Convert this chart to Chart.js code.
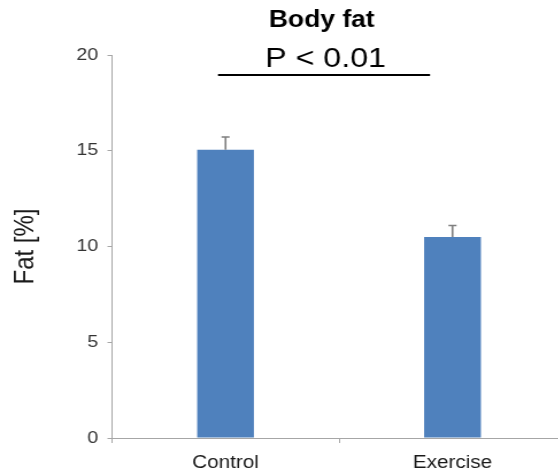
<!DOCTYPE html>
<html>
<head>
<meta charset="utf-8">
<title>Body fat</title>
<script src="https://cdn.jsdelivr.net/npm/chart.js@4/dist/chart.umd.min.js"></script>
<style>
  html, body { margin: 0; padding: 0; background: #ffffff; overflow: hidden; }
  #wrap { width: 558px; height: 475px; overflow: hidden; position: relative; }
  #chart { position: absolute; left: 0; top: 0; }
</style>
</head>
<body>
<div id="wrap">
  <!-- rendered narrow, then widened horizontally on screen -->
  <canvas id="chart" width="496" height="475" style="width:570px;height:475px;"></canvas>
</div>
<script>
// Groups and measured values
const categories = ['Control', 'Exercise'];
const fatMean = [15.05, 10.5];
const fatError = [0.67, 0.6];

// Axis range and labels
const yMin = 0;
const yMax = 20;
const yStep = 5;
const yAxisTitle = 'Fat [%]';
const chartTitle = 'Body fat';
const pValueText = 'P < 0.01';

const FONT = '"Liberation Sans", Arial, Helvetica, sans-serif';
const BAR_BLUE = '#4F81BD';
const AXIS_GREY = '#a6a6a6';

// Upward error bars with a small cap, one per bar
const errorBars = {
  id: 'errorBars',
  afterDatasetsDraw(chart) {
    const { ctx, scales: { y } } = chart;
    const meta = chart.getDatasetMeta(0);
    ctx.save();
    ctx.strokeStyle = '#7f7f7f';
    ctx.lineWidth = 1.6;
    meta.data.forEach((bar, i) => {
      const x = bar.x;
      const yTop = y.getPixelForValue(fatMean[i] + fatError[i]);
      ctx.beginPath();
      ctx.moveTo(x, bar.y);
      ctx.lineTo(x, yTop);
      ctx.moveTo(x - 3.5, yTop);
      ctx.lineTo(x + 3.5, yTop);
      ctx.stroke();
    });
    ctx.restore();
  }
};

// Heading with the significance note and its bracket line
const heading = {
  id: 'heading',
  afterDraw(chart) {
    const { ctx } = chart;
    ctx.save();
    ctx.fillStyle = '#000000';
    ctx.textAlign = 'center';
    ctx.textBaseline = 'middle';
    ctx.font = 'bold 23px ' + FONT;
    ctx.fillText(chartTitle, 280, 20.5);
    ctx.textBaseline = 'alphabetic';
    ctx.font = '28px ' + FONT;
    ctx.fillText(pValueText, 283.3, 67);
    ctx.strokeStyle = '#000000';
    ctx.lineWidth = 2;
    ctx.beginPath();
    ctx.moveTo(189.7, 75);
    ctx.lineTo(374.2, 75);
    ctx.stroke();
    ctx.restore();
  }
};

new Chart(document.getElementById('chart'), {
  type: 'bar',
  data: {
    labels: categories,
    datasets: [{
      data: fatMean,
      backgroundColor: BAR_BLUE,
      borderWidth: 0,
      barPercentage: 0.25,
      categoryPercentage: 1.0
    }]
  },
  options: {
    responsive: false,
    animation: false,
    devicePixelRatio: 1,
    layout: { padding: { top: 55, left: 0, right: 3.5, bottom: 0 } },
    plugins: {
      legend: { display: false },
      tooltip: { enabled: false },
      title: { display: false }
    },
    scales: {
      x: {
        grid: {
          display: true,
          offset: true,
          drawOnChartArea: false,
          drawTicks: true,
          tickLength: 5,
          color: AXIS_GREY
        },
        border: { display: true, color: AXIS_GREY, width: 1 },
        ticks: {
          color: '#1a1a1a',
          padding: 9,
          font: { family: FONT, size: 18 }
        },
        afterFit(scale) { scale.height = 37; }
      },
      y: {
        min: yMin,
        max: yMax,
        ticks: {
          stepSize: yStep,
          color: '#333333',
          padding: 8,
          font: { family: FONT, size: 17 }
        },
        grid: {
          display: true,
          drawOnChartArea: false,
          drawTicks: true,
          tickLength: 4,
          color: AXIS_GREY
        },
        border: { display: true, color: AXIS_GREY, width: 1 },
        title: {
          display: true,
          text: yAxisTitle,
          color: '#1a1a1a',
          padding: { top: 8, bottom: 0 },
          font: { family: FONT, size: 24 }
        },
        afterFit(scale) { scale.width = 97.5; }
      }
    }
  },
  plugins: [errorBars, heading]
});
</script>
</body>
</html>
